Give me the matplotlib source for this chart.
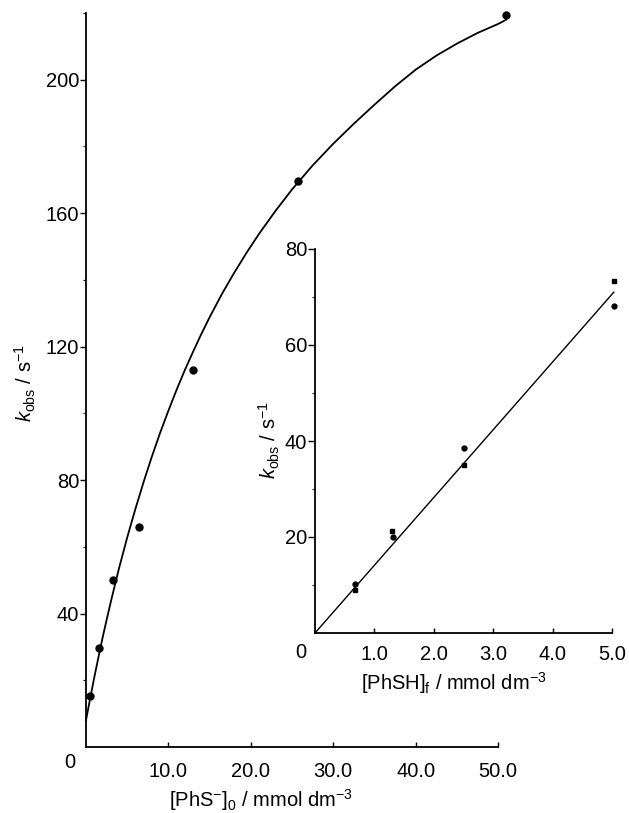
import matplotlib
matplotlib.use("Agg")
import matplotlib.pyplot as plt
import matplotlib.transforms as mtransforms

plt.rcParams['font.family'] = ['Liberation Sans', 'DejaVu Sans']
plt.rcParams['mathtext.fontset'] = 'custom'
plt.rcParams['mathtext.rm'] = 'Liberation Sans'
plt.rcParams['mathtext.it'] = 'Liberation Sans:italic'
plt.rcParams['mathtext.bf'] = 'Liberation Sans:bold'

# ---- main plot data ----
main_x = [0.49, 1.62, 3.32, 6.47, 13.0, 25.7, 51.0]
main_y = [15.3, 29.6, 50.1, 65.8, 113.0, 169.7, 219.5]

# fitted curve
curve_x = [0, 0.5, 1, 1.5, 2, 2.5, 3, 3.5, 4, 5, 6, 7, 8, 9, 10, 11, 12, 13, 14,
           15, 16.5, 18, 19.5, 21, 23, 25, 27.5, 30, 32.5, 35, 37.5, 40, 42.5,
           45, 47.5, 50, 51]
curve_y = [8.0, 14.5, 20.8, 26.8, 32.6, 38.1, 43.4, 48.5, 53.5, 62.8, 71.4,
           79.5, 87.1, 94.2, 100.8, 107.1, 113.0, 118.5, 123.8, 128.8, 135.8,
           142.2, 148.2, 153.8, 160.7, 167.1, 174.3, 180.8, 186.8, 192.5,
           198.0, 203.0, 207.2, 210.8, 214.0, 216.7, 218.0]

main_xticks = [10, 20, 30, 40, 50]
main_xticklabels = ['10.0', '20.0', '30.0', '40.0', '50.0']
main_yticks = [40, 80, 120, 160, 200]
main_yticklabels = ['40', '80', '120', '160', '200']
main_yminor = [20, 60, 100, 140, 180, 220]

# ---- inset data ----
ins_circ_x = [0.67, 1.31, 2.50, 5.03]
ins_circ_y = [10.3, 19.9, 38.6, 68.2]
ins_sq_x = [0.67, 1.29, 2.51, 5.03]
ins_sq_y = [8.9, 21.2, 35.0, 73.4]
ins_fit_x = [0, 5.03]
ins_fit_y = [0, 71.0]

ins_xticks = [1, 2, 3, 4, 5]
ins_xticklabels = ['1.0', '2.0', '3.0', '4.0', '5.0']
ins_yticks = [20, 40, 60, 80]
ins_yticklabels = ['20', '40', '60', '80']
ins_yminor = [10, 30, 50, 70]

W, H = 629, 813
fig = plt.figure(figsize=(W / 100, H / 100), dpi=100)

FS = 14.5

def style_axes(ax, xpad, ypad, ylen):
    for s in ['top', 'right']:
        ax.spines[s].set_visible(False)
    for s in ['left', 'bottom']:
        ax.spines[s].set_linewidth(1.3)
    ax.patch.set_alpha(0)
    ax.tick_params(axis='x', direction='in', length=3.5, width=1.0,
                   labelsize=FS, pad=xpad)
    ax.tick_params(axis='y', which='major', direction='out', length=ylen,
                   width=1.0, labelsize=FS, pad=ypad)
    ax.tick_params(axis='y', which='minor', direction='out', length=2.5,
                   width=0.8)

# main axes
ax = fig.add_axes([86 / W, (H - 747) / H, 412 / W, 734 / H])
ax.set_xlim(0, 50)
ax.set_ylim(0, 220)
ax.plot(curve_x, curve_y, color='black', lw=1.3, clip_on=False)
ax.plot(main_x, main_y, 'o', color='black', ms=5, clip_on=False)
ax.set_xticks(main_xticks)
ax.set_xticklabels(main_xticklabels)
ax.set_yticks(main_yticks)
ax.set_yticklabels(main_yticklabels)
ax.set_yticks(main_yminor, minor=True)
style_axes(ax, xpad=11, ypad=0.5, ylen=4.5)
off = mtransforms.offset_copy(ax.transData, fig=fig, x=-16, y=-15, units='dots')
ax.text(0, 0, '0', transform=off, ha='center', va='center', fontsize=FS)
ax.text(0.425, -0.072, r'[PhS$^{-}$]$_0$ / mmol dm$^{-3}$', transform=ax.transAxes,
        ha='center', va='center', fontsize=FS)
ax.text(-0.148, 0.496, r'$k_{\mathrm{obs}}$ / s$^{-1}$', transform=ax.transAxes,
        ha='center', va='center', rotation=90, fontsize=FS)

# inset axes
ins = fig.add_axes([315 / W, (H - 633) / H, 297 / W, 384 / H])
ins.set_xlim(0, 5)
ins.set_ylim(0, 80)
ins.plot(ins_fit_x, ins_fit_y, color='black', lw=1.0, clip_on=False)
ins.plot(ins_circ_x, ins_circ_y, 'o', color='black', ms=3.5, clip_on=False)
ins.plot(ins_sq_x, ins_sq_y, 's', color='black', ms=3.2, clip_on=False)
ins.set_xticks(ins_xticks)
ins.set_xticklabels(ins_xticklabels)
ins.set_yticks(ins_yticks)
ins.set_yticklabels(ins_yticklabels)
ins.set_yticks(ins_yminor, minor=True)
style_axes(ins, xpad=8.5, ypad=0.5, ylen=5)
off2 = mtransforms.offset_copy(ins.transData, fig=fig, x=-14, y=-19, units='dots')
ins.text(0, 0, '0', transform=off2, ha='center', va='center', fontsize=FS)
ins.text(0.468, -0.130, r'[PhSH]$_{\mathrm{f}}$ / mmol dm$^{-3}$', transform=ins.transAxes,
         ha='center', va='center', fontsize=FS)
ins.text(-0.152, 0.503, r'$k_{\mathrm{obs}}$ / s$^{-1}$', transform=ins.transAxes,
         ha='center', va='center', rotation=90, fontsize=FS)

fig.savefig('out.png', dpi=100)
